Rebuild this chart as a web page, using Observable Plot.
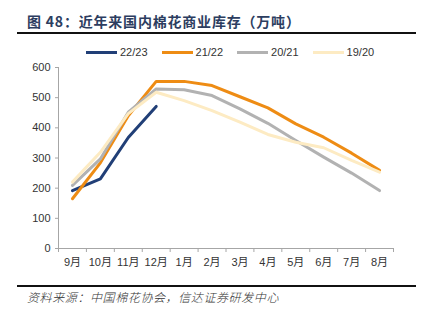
<!DOCTYPE html>
<html><head><meta charset="utf-8">
<script src="https://cdn.jsdelivr.net/npm/d3@7"></script>
<script src="https://cdn.jsdelivr.net/npm/@observablehq/plot@0.6"></script>
<style>
body{margin:0;background:#fff;}
#wrap{position:relative;width:423px;height:329px;background:#fff;overflow:hidden;font-family:"Liberation Sans","Noto Sans CJK SC",sans-serif;}
#title{position:absolute;left:27px;top:11px;font-size:14px;font-weight:bold;color:#2c3d60;font-family:"Noto Sans CJK SC",sans-serif;letter-spacing:0.8px;white-space:nowrap;}
.rule{position:absolute;left:17px;width:399px;height:2px;background:#111;}
#legend{position:absolute;top:46px;left:86px;display:flex;font-size:11px;color:#333;white-space:nowrap;}
.item{display:flex;align-items:center;margin-right:14px;}
.sw{width:31px;height:3px;margin-right:3px;}
#chart{position:absolute;left:0;top:57px;}
#src{position:absolute;left:27px;top:288px;font-size:12px;font-style:italic;font-weight:300;color:#333;font-family:"Noto Sans CJK SC",sans-serif;letter-spacing:0.6px;white-space:nowrap;}
</style></head>
<body>
<div id="wrap">
  <div id="title">图 48：近年来国内棉花商业库存（万吨）</div>
  <div class="rule" style="top:32px"></div>
  <div id="legend"></div>
  <div id="chart"></div>
  <div class="rule" style="top:285px"></div>
  <div id="src">资料来源：中国棉花协会，信达证券研发中心</div>
</div>
<script>
const months = ["9月","10月","11月","12月","1月","2月","3月","4月","5月","6月","7月","8月"];
const seriesNames = ["22/23","21/22","20/21","19/20"];
const colors = ["#213f77","#ee8c14","#b2b2b2","#fdebc3"];
const s2223 = [192, 231, 368, 471];
const s2122 = [165, 284, 440, 554, 554, 540, 503, 466, 413, 369, 316, 259];
const s2021 = [209, 297, 452, 529, 526, 507, 463, 415, 358, 303, 250, 192];
const s1920 = [220, 319, 447, 518, 490, 457, 419, 378, 352, 334, 292, 253];
const yTicks = [0,100,200,300,400,500,600];

const seriesValues = [s2223, s2122, s2021, s1920];
const data = seriesValues.flatMap((vals, k) => vals.map((v, i) => ({series: seriesNames[k], i, value: v})));

const legend = document.getElementById("legend");
seriesNames.forEach((n, k) => {
  const it = document.createElement("div"); it.className = "item";
  const sw = document.createElement("div"); sw.className = "sw"; sw.style.background = colors[k];
  const t = document.createElement("span"); t.textContent = n;
  it.appendChild(sw); it.appendChild(t); legend.appendChild(it);
});

const boundaries = d3.range(13).map(i => i - 0.5);
const chart = Plot.plot({
  width: 423, height: 216,
  marginLeft: 58, marginRight: 30, marginTop: 10, marginBottom: 25,
  x: {domain: [-0.5, 11.5]},
  y: {domain: [0, 600]},
  color: {domain: seriesNames, range: colors},
  style: {fontFamily: '"Liberation Sans","Noto Sans CJK SC",sans-serif', fontSize: "11px", color: "#333", background: "transparent"},
  marks: [
    Plot.axisY({ticks: yTicks, tickSize: 3, tickPadding: 5, stroke: "#a6a6a6", label: null}),
    Plot.axisX({ticks: boundaries, tickSize: 4, tickFormat: () => "", stroke: "#a6a6a6", label: null}),
    Plot.axisX({ticks: d3.range(12), tickSize: 0, tickPadding: 10, tickFormat: i => months[i], label: null}),
    Plot.ruleY([0], {stroke: "#a6a6a6"}),
    Plot.ruleX([-0.5], {stroke: "#a6a6a6"}),
    Plot.line(data, {x: "i", y: "value", z: "series", stroke: "series", strokeWidth: 3, strokeLinejoin: "round"})
  ]
});
document.getElementById("chart").appendChild(chart);
</script>
</body></html>
